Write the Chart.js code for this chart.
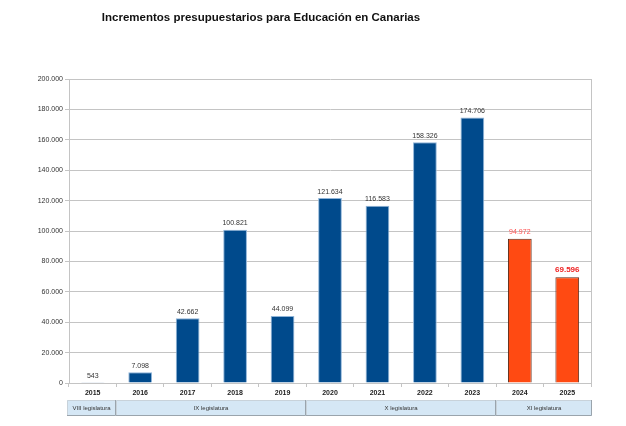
<!DOCTYPE html>
<html><head><meta charset="utf-8">
<script src="https://cdn.jsdelivr.net/npm/chart.js@4.4.1/dist/chart.umd.min.js"></script>
<style>html,body{margin:0;padding:0;background:#fff}canvas{display:block}</style>
</head><body>
<canvas id="c" width="626" height="426"></canvas>
<script>
const titleText = 'Incrementos presupuestarios para Educación en Canarias';
const categories = ['2015','2016','2017','2018','2019','2020','2021','2022','2023','2024','2025'];
const values = [543, 7098, 42662, 100821, 44099, 121634, 116583, 158326, 174706, 94972, 69596];
const barColors = ['#004a8c','#004a8c','#004a8c','#004a8c','#004a8c','#004a8c','#004a8c','#004a8c','#004a8c','#ff4a12','#ff4a12'];
const labelColors = ['#333','#333','#333','#333','#333','#333','#333','#333','#333','#ff5050','#ee2222'];
const labelBold = [false,false,false,false,false,false,false,false,false,false,true];
const legislaturas = ['VIII legislatura','IX legislatura','X legislatura','XI legislatura'];
const legStart = [0,1,5,9];
const legEnd = [0,4,8,10];
const yTicks = [0,20000,40000,60000,80000,100000,120000,140000,160000,180000,200000];

const fmt = v => v.toString().replace(/\B(?=(\d{3})+(?!\d))/g, '.');
const FONT = '"Liberation Sans", Arial, sans-serif';

const extras = {
  id: 'extras',
  afterDatasetsDraw(chart) {
    const ctx = chart.ctx, area = chart.chartArea;
    const meta = chart.getDatasetMeta(0);
    ctx.save();
    // title
    ctx.fillStyle = '#111'; ctx.font = 'bold 11.5px ' + FONT;
    ctx.textAlign = 'center'; ctx.textBaseline = 'middle';
    ctx.fillText(titleText, 261, 18);
    // right border
    ctx.strokeStyle = '#c4c4c4'; ctx.lineWidth = 1;
    ctx.beginPath(); ctx.moveTo(Math.round(area.right)+0.5, area.top); ctx.lineTo(Math.round(area.right)+0.5, area.bottom); ctx.stroke();
    // value labels
    ctx.textAlign = 'center'; ctx.textBaseline = 'bottom';
    meta.data.forEach((bar, i) => {
      ctx.font = (labelBold[i] ? 'bold 8px ' : '7px ') + FONT;
      ctx.fillStyle = labelColors[i];
      ctx.fillText(fmt(values[i]), bar.x, bar.y - 3);
    });
    // legislatura boxes
    const xs = chart.scales.x;
    const half = (xs.getPixelForValue(1) - xs.getPixelForValue(0)) / 2;
    const top = 400, h = 16;
    legislaturas.forEach((name, k) => {
      let x0 = xs.getPixelForValue(legStart[k]) - half;
      let x1 = xs.getPixelForValue(legEnd[k]) + half;
      if (k === 0) x0 -= 2;
      if (k === legislaturas.length - 1) x1 += 1;
      x0 = Math.round(x0); x1 = Math.round(x1);
      ctx.fillStyle = '#d5e7f5';
      ctx.fillRect(x0, top, x1 - x0, h);
      ctx.strokeStyle = '#c8d2da'; ctx.lineWidth = 1;
      ctx.beginPath();
      ctx.moveTo(x0 + 0.5, top + h); ctx.lineTo(x0 + 0.5, top + 0.5); ctx.lineTo(x1, top + 0.5);
      ctx.stroke();
      ctx.strokeStyle = '#9aa4ac';
      ctx.beginPath();
      ctx.moveTo(x1 - 0.5, top); ctx.lineTo(x1 - 0.5, top + h - 0.5); ctx.lineTo(x0, top + h - 0.5);
      ctx.stroke();
      ctx.fillStyle = '#333'; ctx.font = '6px ' + FONT;
      ctx.textBaseline = 'middle';
      ctx.fillText(name, (x0 + x1) / 2, top + h / 2 + 0.5);
    });
    ctx.restore();
  }
};

new Chart(document.getElementById('c'), {
  type: 'bar',
  data: {
    labels: categories,
    datasets: [{
      data: values,
      backgroundColor: barColors,
      borderColor: barColors.map(c => c === '#004a8c' ? '#8fb4d8' : '#5a2a1a'),
      borderWidth: 1,
      categoryPercentage: 1,
      barPercentage: 0.5
    }]
  },
  options: {
    responsive: false,
    animation: false,
    devicePixelRatio: 1,
    layout: { padding: { left: 0, right: 35, top: 79, bottom: 31 } },
    plugins: {
      legend: { display: false },
      tooltip: { enabled: false },
      title: { display: false }
    },
    scales: {
      x: {
        grid: { drawOnChartArea: false, drawTicks: true, tickLength: 4, color: '#c4c4c4', offset: true },
        border: { color: '#c4c4c4' },
        ticks: { color: '#222', font: { family: FONT, size: 7, weight: 'bold' }, padding: 2, maxRotation: 0 },
        afterFit: s => { s.height = 12; }
      },
      y: {
        min: 0, max: 200000,
        afterBuildTicks: s => { s.ticks = yTicks.map(v => ({ value: v })); },
        grid: { color: '#c4c4c4', drawTicks: true, tickLength: 4 },
        border: { color: '#c4c4c4' },
        ticks: { color: '#333', font: { family: FONT, size: 7 }, padding: 2, callback: v => fmt(v) },
        afterFit: s => { s.width = 69; }
      }
    }
  },
  plugins: [extras]
});
</script>
</body></html>
